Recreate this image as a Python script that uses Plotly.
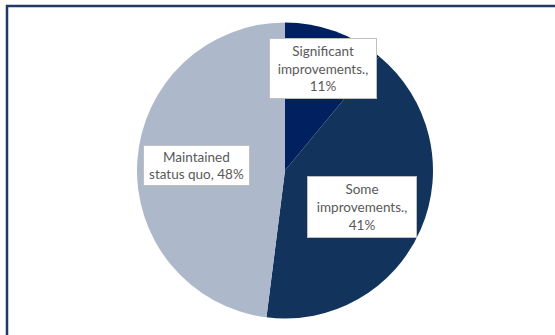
import plotly.graph_objects as go

# Survey outcome shares
categories = ["Significant improvements.", "Some improvements.", "Maintained status quo"]
shares = [11, 41, 48]
label_lines = [["Significant", "improvements.,"], ["Some", "improvements.,"], ["Maintained", "status quo,"]]

colors = ["#002060", "#12345C", "#ADB9CA"]

W, H = 555, 335
cx, cy, r = 285, 170.5, 148

fig = go.Figure(
    go.Pie(
        labels=categories,
        values=shares,
        sort=False,
        direction="clockwise",
        rotation=0,
        marker=dict(colors=colors, line=dict(width=0)),
        textinfo="none",
        hoverinfo="label+percent",
        domain=dict(
            x=[(cx - r) / W, (cx + r) / W],
            y=[(H - cy - r) / H, (H - cy + r) / H],
        ),
    )
)

# Data-label boxes: centre (px) and box size (px) for each slice
label_boxes = [
    ((323, 68), (106, 59), True),
    ((361.5, 206.5), (108, 60), True),
    ((196, 165), (105, 39), False),
]

for cat, lines, val, ((bx, by), (bw, bh), split) in zip(categories, label_lines, shares, label_boxes):
    if split:
        text = "<br>".join(lines) + f"<br>{val}%"
    else:
        text = lines[0] + "<br>" + lines[1] + f" {val}%"
    fig.add_annotation(
        x=bx / W,
        y=1 - by / H,
        xref="paper",
        yref="paper",
        text=text,
        showarrow=False,
        align="center",
        xanchor="center",
        yanchor="middle",
        width=bw,
        height=bh,
        bgcolor="white",
        bordercolor="#BFBFBF",
        borderwidth=1,
        borderpad=0,
        font=dict(family="Lato", size=13.5, color="#595959"),
    )

# Chart-area frame
fig.add_shape(
    type="rect",
    xref="paper",
    yref="paper",
    x0=7 / W,
    x1=1.05,
    y0=-0.05,
    y1=1 - 6 / H,
    line=dict(color="#1F3864", width=2.5),
    fillcolor="rgba(0,0,0,0)",
)

fig.update_layout(
    width=W,
    height=H,
    margin=dict(l=0, r=0, t=0, b=0),
    paper_bgcolor="white",
    plot_bgcolor="white",
    showlegend=False,
)

fig.write_html("out.html")
